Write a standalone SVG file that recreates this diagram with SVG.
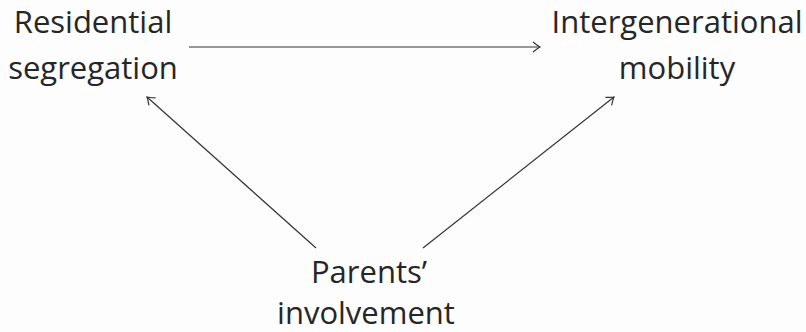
<svg xmlns="http://www.w3.org/2000/svg" width="806" height="332" viewBox="0 0 806 332">
<style>
text{font-family:"Open Sans","Noto Sans",sans-serif;font-size:31px;fill:#262626;text-anchor:middle}
.c line{stroke:#333;stroke-width:1.2;fill:none;marker-end:url(#ah)}
</style>
<defs>
<marker id="ah" viewBox="-8 -6 10 12" markerWidth="10" markerHeight="12" refX="0" refY="0" orient="auto" markerUnits="userSpaceOnUse">
<path d="M-7,-5 Q-2,-1 0,0 Q-2,1 -7,5" fill="none" stroke="#333" stroke-width="1.2"/>
</marker>
</defs>
<rect width="806" height="332" fill="#fdfdfd"/>
<g class="c" id="connectors">
<line x1="189" y1="47" x2="540" y2="47"/>
<line x1="316" y1="248" x2="147" y2="97"/>
<line x1="423" y1="248" x2="614" y2="97"/>
</g>
<g id="residential"><text x="93" y="33">Residential</text><text x="93" y="79">segregation</text></g>
<g id="mobility"><text x="677" y="33">Intergenerational</text><text x="677" y="79">mobility</text></g>
<g id="parents"><text x="369" y="283">Parents’</text><text x="366" y="324">involvement</text></g>
</svg>
